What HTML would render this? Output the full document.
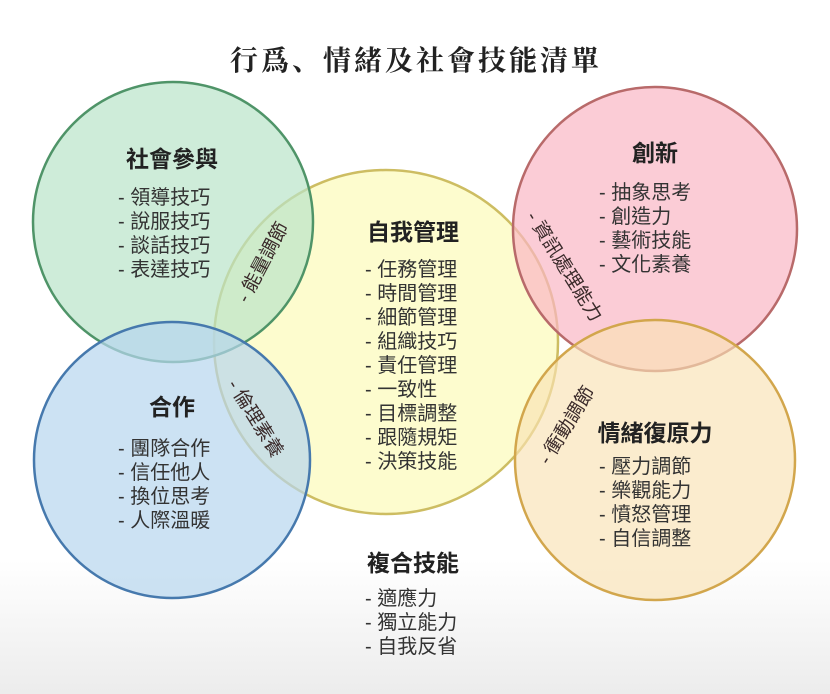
<!DOCTYPE html>
<html><head><meta charset="utf-8"><style>
html,body{margin:0;padding:0}
body{width:830px;height:694px;overflow:hidden;background:linear-gradient(#fff 0,#fff 560px,#ececec 694px);font-family:"Liberation Sans","Noto Sans CJK TC",sans-serif;}
svg{position:absolute;left:0;top:0}
</style></head><body>
<svg width="830" height="694" viewBox="0 0 830 694" xmlns="http://www.w3.org/2000/svg" font-family="Liberation Sans, Noto Sans CJK TC, sans-serif">
<g stroke-width="2.5">
<circle cx="386" cy="342" r="172" fill="#fdfbc6" fill-opacity="0.85" stroke="#cdbd62"/>
<circle cx="173" cy="222" r="140" fill="#b9e4c9" fill-opacity="0.7" stroke="#4f9468"/>
<circle cx="172" cy="460" r="138" fill="#b7d6ee" fill-opacity="0.7" stroke="#4679ad"/>
<circle cx="655" cy="229" r="142" fill="#f9b7c4" fill-opacity="0.7" stroke="#b86a6a"/>
<circle cx="655" cy="460" r="140" fill="#f9e2b4" fill-opacity="0.65" stroke="#d2a64c"/>
</g>
<text x="416" y="70" text-anchor="middle" font-size="28" font-weight="bold" fill="#222" font-family="Noto Serif CJK SC, serif" letter-spacing="3">行爲、情緒及社會技能清單</text>
<g fill="#222" font-size="23" font-weight="bold">
<text x="172" y="167" text-anchor="middle">社會參與</text>
<text x="413" y="240" text-anchor="middle">自我管理</text>
<text x="655" y="161" text-anchor="middle">創新</text>
<text x="172" y="415" text-anchor="middle">合作</text>
<text x="655" y="441" text-anchor="middle">情緒復原力</text>
<text x="413" y="571" text-anchor="middle">複合技能</text>
</g>
<g fill="#333" font-size="20">
<text x="118" y="204">- 領導技巧</text>
<text x="118" y="228">- 說服技巧</text>
<text x="118" y="252">- 談話技巧</text>
<text x="118" y="276">- 表達技巧</text>
<text x="365" y="276">- 任務管理</text>
<text x="365" y="300">- 時間管理</text>
<text x="365" y="324">- 細節管理</text>
<text x="365" y="348">- 組織技巧</text>
<text x="365" y="372">- 責任管理</text>
<text x="365" y="396">- 一致性</text>
<text x="365" y="420">- 目標調整</text>
<text x="365" y="444">- 跟隨規矩</text>
<text x="365" y="468">- 決策技能</text>
<text x="599" y="199">- 抽象思考</text>
<text x="599" y="223">- 創造力</text>
<text x="599" y="247">- 藝術技能</text>
<text x="599" y="271">- 文化素養</text>
<text x="118" y="455">- 團隊合作</text>
<text x="118" y="479">- 信任他人</text>
<text x="118" y="503">- 換位思考</text>
<text x="118" y="527">- 人際溫暖</text>
<text x="599" y="473">- 壓力調節</text>
<text x="599" y="497">- 樂觀能力</text>
<text x="599" y="521">- 憤怒管理</text>
<text x="599" y="545">- 自信調整</text>
<text x="365" y="605">- 適應力</text>
<text x="365" y="629">- 獨立能力</text>
<text x="365" y="653">- 自我反省</text>
</g>
<g fill="#3a2a2a" font-size="19" text-anchor="middle">
<text transform="translate(262,262) rotate(-62)" dy="7">- 能量調節</text>
<text transform="translate(256,418) rotate(58)" dy="7">- 倫理素養</text>
<text transform="translate(565,266) rotate(58)" dy="7">- 資訊處理能力</text>
<text transform="translate(566,425) rotate(-58)" dy="7">- 衝動調節</text>
</g>
</svg>
</body></html>
